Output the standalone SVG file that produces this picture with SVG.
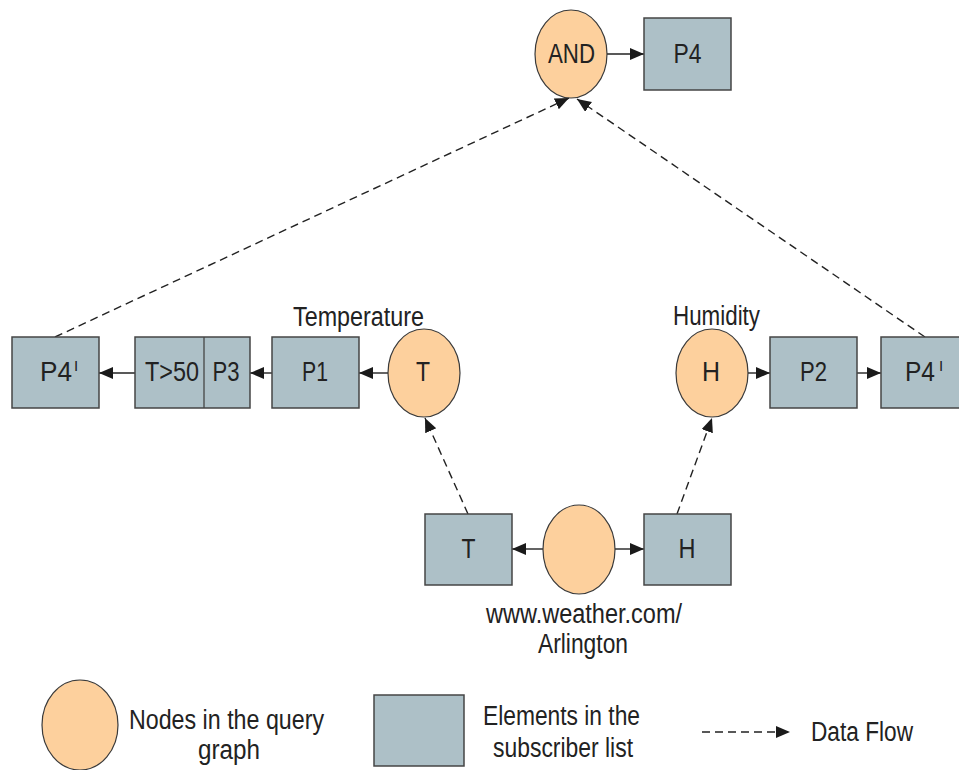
<svg xmlns="http://www.w3.org/2000/svg" width="959" height="770" viewBox="0 0 959 770">
  <style>
    .node { fill: #FDD09D; stroke: #3a3a3a; stroke-width: 1.2; }
    .box { fill: #ADC0C7; stroke: #454545; stroke-width: 1.5; }
    .lbl { font-family: "Liberation Sans", Arial, sans-serif; font-size: 28px; fill: #222; text-anchor: middle; }
    .note { font-size: 27px; }
    .sup { font-family: "Liberation Sans", Arial, sans-serif; font-size: 15px; fill: #222; }
    .flow { fill: none; stroke: #222; stroke-width: 1.4; }
    .dash { stroke-dasharray: 8 5; }
  </style>
  <defs>
    <marker id="head" markerUnits="userSpaceOnUse" markerWidth="16" markerHeight="14" refX="14" refY="6" orient="auto">
      <path d="M0,0 L14,6 L0,12 z" fill="#1a1a1a"/>
    </marker>
  </defs>

  <rect width="959" height="770" fill="#fff"/>

  <!-- connectors -->
  <g id="connectors" class="flow">
    <line x1="607" y1="54" x2="644" y2="54" marker-end="url(#head)"/>
    <line x1="388" y1="373" x2="359" y2="373" marker-end="url(#head)"/>
    <line x1="272" y1="373" x2="250" y2="373" marker-end="url(#head)"/>
    <line x1="135" y1="373" x2="99" y2="373" marker-end="url(#head)"/>
    <line x1="748" y1="373" x2="770" y2="373" marker-end="url(#head)"/>
    <line x1="857" y1="373" x2="881" y2="373" marker-end="url(#head)"/>
    <line x1="543" y1="549" x2="512" y2="549" marker-end="url(#head)"/>
    <line x1="615" y1="549" x2="644" y2="549" marker-end="url(#head)"/>
    <line class="dash" x1="468" y1="514" x2="425" y2="418" marker-end="url(#head)"/>
    <line class="dash" x1="677" y1="514" x2="712" y2="418" marker-end="url(#head)"/>
    <line class="dash" x1="55" y1="337" x2="569" y2="98" marker-end="url(#head)"/>
    <line class="dash" x1="925" y1="337" x2="577" y2="99" marker-end="url(#head)"/>
  </g>

  <!-- query graph nodes -->
  <g id="and-node">
    <ellipse class="node" cx="571" cy="54" rx="36" ry="44"/>
    <text class="lbl" x="571.5" y="63" textLength="47" lengthAdjust="spacingAndGlyphs">AND</text>
  </g>
  <g id="p4-top">
    <rect class="box" x="644" y="18" width="87" height="72"/>
    <text class="lbl" x="687.5" y="63" textLength="28" lengthAdjust="spacingAndGlyphs">P4</text>
  </g>

  <g id="temperature-node">
    <ellipse class="node" cx="424" cy="373" rx="36" ry="44"/>
    <text class="lbl" x="423" y="381" textLength="14" lengthAdjust="spacingAndGlyphs">T</text>
    <text class="lbl note" x="358.5" y="326" textLength="131" lengthAdjust="spacingAndGlyphs">Temperature</text>
  </g>
  <g id="p1">
    <rect class="box" x="272" y="337" width="87" height="71"/>
    <text class="lbl" x="315" y="381" textLength="26" lengthAdjust="spacingAndGlyphs">P1</text>
  </g>
  <g id="filter-p3">
    <rect class="box" x="135" y="337" width="115" height="71"/>
    <line x1="204" y1="337" x2="204" y2="408" stroke="#454545" stroke-width="1.3"/>
    <text class="lbl" x="172" y="381" textLength="54" lengthAdjust="spacingAndGlyphs">T&gt;50</text>
    <text class="lbl" x="226" y="381" textLength="27" lengthAdjust="spacingAndGlyphs">P3</text>
  </g>
  <g id="p4-left">
    <rect class="box" x="12" y="337" width="87" height="71"/>
    <text class="lbl" x="56" y="381" textLength="32" lengthAdjust="spacingAndGlyphs">P4</text>
    <text class="sup" x="74" y="371">I</text>
  </g>

  <g id="humidity-node">
    <ellipse class="node" cx="712" cy="373" rx="36" ry="44"/>
    <text class="lbl" x="711" y="381" textLength="18" lengthAdjust="spacingAndGlyphs">H</text>
    <text class="lbl note" x="716.5" y="325" textLength="87" lengthAdjust="spacingAndGlyphs">Humidity</text>
  </g>
  <g id="p2">
    <rect class="box" x="770" y="337" width="87" height="71"/>
    <text class="lbl" x="813.5" y="381" textLength="27" lengthAdjust="spacingAndGlyphs">P2</text>
  </g>
  <g id="p4-right">
    <rect class="box" x="881" y="337" width="87" height="71"/>
    <text class="lbl" x="920" y="381" textLength="30" lengthAdjust="spacingAndGlyphs">P4</text>
    <text class="sup" x="939" y="371">I</text>
  </g>

  <g id="source-node">
    <ellipse class="node" cx="579" cy="549.5" rx="36" ry="44.5"/>
    <text class="lbl note" x="584" y="623" textLength="196" lengthAdjust="spacingAndGlyphs">www.weather.com/</text>
    <text class="lbl note" x="583" y="653" textLength="90" lengthAdjust="spacingAndGlyphs">Arlington</text>
  </g>
  <g id="stream-t">
    <rect class="box" x="425" y="514" width="87" height="71"/>
    <text class="lbl" x="468.5" y="558" textLength="14" lengthAdjust="spacingAndGlyphs">T</text>
  </g>
  <g id="stream-h">
    <rect class="box" x="644" y="514" width="87" height="71"/>
    <text class="lbl" x="687" y="558" textLength="17" lengthAdjust="spacingAndGlyphs">H</text>
  </g>

  <!-- legend -->
  <g id="legend-node">
    <ellipse class="node" cx="80" cy="725" rx="38" ry="45"/>
    <text class="lbl note" x="226.5" y="729" textLength="195" lengthAdjust="spacingAndGlyphs">Nodes in the query</text>
    <text class="lbl note" x="229" y="759" textLength="62" lengthAdjust="spacingAndGlyphs">graph</text>
  </g>
  <g id="legend-element">
    <rect class="box" x="374" y="695" width="90" height="71"/>
    <text class="lbl note" x="561.5" y="725" textLength="157" lengthAdjust="spacingAndGlyphs">Elements in the</text>
    <text class="lbl note" x="563" y="757" textLength="140" lengthAdjust="spacingAndGlyphs">subscriber list</text>
  </g>
  <g id="legend-flow">
    <line class="flow dash" x1="702" y1="732" x2="790" y2="732" marker-end="url(#head)"/>
    <text class="lbl note" x="862" y="741" textLength="102" lengthAdjust="spacingAndGlyphs">Data Flow</text>
  </g>
</svg>
